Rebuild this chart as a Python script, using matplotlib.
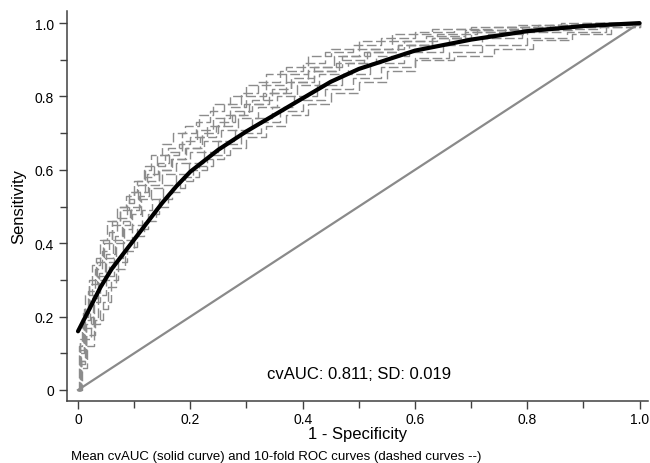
import matplotlib
matplotlib.use("Agg")
import matplotlib.pyplot as plt
from matplotlib.ticker import MultipleLocator, FixedLocator

plt.rcParams['font.family'] = ['Liberation Sans', 'DejaVu Sans']

# 10-fold ROC curves (fpr, tpr)
fold_fpr = [
    [0, 0.004, 0.012, 0.025, 0.04, 0.052, 0.07, 0.085, 0.1, 0.118, 0.13, 0.15, 0.17, 0.19, 0.215, 0.24, 0.27, 0.3, 0.335, 0.37, 0.41, 0.45, 0.5, 0.56, 0.63, 0.7, 0.78, 0.86, 0.93, 1.0],
    [0, 0.003, 0.01, 0.02, 0.032, 0.045, 0.06, 0.075, 0.09, 0.105, 0.12, 0.14, 0.16, 0.185, 0.21, 0.235, 0.26, 0.29, 0.32, 0.36, 0.4, 0.44, 0.49, 0.54, 0.6, 0.67, 0.74, 0.82, 0.9, 1.0],
    [0, 0.005, 0.014, 0.026, 0.038, 0.05, 0.065, 0.08, 0.095, 0.11, 0.125, 0.145, 0.165, 0.19, 0.22, 0.25, 0.28, 0.31, 0.345, 0.38, 0.42, 0.47, 0.52, 0.58, 0.64, 0.71, 0.79, 0.87, 0.94, 1.0],
    [0, 0.002, 0.008, 0.018, 0.03, 0.042, 0.055, 0.07, 0.088, 0.1, 0.12, 0.135, 0.155, 0.18, 0.2, 0.23, 0.26, 0.295, 0.33, 0.37, 0.41, 0.46, 0.51, 0.57, 0.63, 0.69, 0.76, 0.84, 0.92, 1.0],
    [0, 0.006, 0.015, 0.028, 0.04, 0.055, 0.068, 0.082, 0.097, 0.112, 0.13, 0.15, 0.175, 0.2, 0.225, 0.255, 0.285, 0.32, 0.355, 0.39, 0.43, 0.48, 0.53, 0.59, 0.66, 0.73, 0.8, 0.88, 0.95, 1.0],
    [0, 0.004, 0.011, 0.022, 0.036, 0.048, 0.062, 0.078, 0.092, 0.108, 0.126, 0.145, 0.168, 0.192, 0.218, 0.245, 0.275, 0.305, 0.34, 0.38, 0.42, 0.465, 0.515, 0.57, 0.63, 0.7, 0.77, 0.85, 0.93, 1.0],
    [0, 0.005, 0.013, 0.024, 0.036, 0.05, 0.064, 0.08, 0.096, 0.114, 0.132, 0.152, 0.174, 0.198, 0.224, 0.25, 0.28, 0.31, 0.345, 0.385, 0.425, 0.47, 0.52, 0.58, 0.65, 0.72, 0.79, 0.86, 0.93, 1.0],
    [0, 0.007, 0.016, 0.028, 0.04, 0.054, 0.068, 0.084, 0.1, 0.118, 0.138, 0.16, 0.182, 0.205, 0.23, 0.26, 0.29, 0.325, 0.36, 0.4, 0.44, 0.49, 0.54, 0.6, 0.66, 0.72, 0.8, 0.87, 0.94, 1.0],
    [0, 0.006, 0.015, 0.03, 0.045, 0.058, 0.072, 0.088, 0.105, 0.125, 0.145, 0.168, 0.19, 0.215, 0.24, 0.27, 0.3, 0.335, 0.37, 0.41, 0.45, 0.5, 0.55, 0.6, 0.67, 0.74, 0.81, 0.88, 0.95, 1.0],
    [0, 0.003, 0.009, 0.02, 0.033, 0.046, 0.06, 0.074, 0.09, 0.106, 0.122, 0.142, 0.162, 0.186, 0.212, 0.24, 0.27, 0.3, 0.335, 0.37, 0.41, 0.455, 0.5, 0.56, 0.62, 0.69, 0.76, 0.84, 0.92, 1.0],
]
fold_tpr = [
    [0, 0.14, 0.26, 0.34, 0.41, 0.46, 0.50, 0.53, 0.57, 0.60, 0.64, 0.67, 0.70, 0.72, 0.75, 0.78, 0.80, 0.83, 0.86, 0.88, 0.91, 0.93, 0.95, 0.97, 0.985, 0.99, 0.995, 1.0, 1.0, 1.0],
    [0, 0.10, 0.22, 0.30, 0.36, 0.41, 0.46, 0.50, 0.54, 0.57, 0.61, 0.64, 0.66, 0.70, 0.73, 0.76, 0.78, 0.81, 0.84, 0.87, 0.89, 0.92, 0.94, 0.96, 0.975, 0.985, 0.99, 0.995, 1.0, 1.0],
    [0, 0.08, 0.18, 0.26, 0.32, 0.37, 0.42, 0.46, 0.50, 0.54, 0.57, 0.60, 0.63, 0.66, 0.70, 0.73, 0.76, 0.79, 0.82, 0.85, 0.88, 0.91, 0.93, 0.95, 0.97, 0.98, 0.99, 0.995, 1.0, 1.0],
    [0, 0.12, 0.20, 0.27, 0.33, 0.38, 0.43, 0.47, 0.51, 0.54, 0.58, 0.61, 0.64, 0.67, 0.69, 0.72, 0.75, 0.78, 0.81, 0.84, 0.87, 0.89, 0.92, 0.94, 0.96, 0.975, 0.985, 0.99, 1.0, 1.0],
    [0, 0.09, 0.17, 0.24, 0.30, 0.35, 0.40, 0.44, 0.48, 0.52, 0.55, 0.59, 0.62, 0.65, 0.68, 0.71, 0.74, 0.77, 0.80, 0.83, 0.86, 0.89, 0.91, 0.94, 0.96, 0.97, 0.98, 0.99, 1.0, 1.0],
    [0, 0.11, 0.19, 0.25, 0.31, 0.36, 0.41, 0.45, 0.49, 0.53, 0.56, 0.60, 0.63, 0.66, 0.69, 0.72, 0.75, 0.78, 0.81, 0.84, 0.87, 0.90, 0.92, 0.94, 0.96, 0.975, 0.985, 0.995, 1.0, 1.0],
    [0, 0.07, 0.14, 0.20, 0.26, 0.31, 0.36, 0.41, 0.45, 0.49, 0.52, 0.56, 0.59, 0.62, 0.65, 0.68, 0.71, 0.74, 0.77, 0.80, 0.83, 0.86, 0.89, 0.92, 0.94, 0.96, 0.975, 0.985, 0.995, 1.0],
    [0, 0.06, 0.12, 0.18, 0.22, 0.28, 0.33, 0.38, 0.42, 0.46, 0.50, 0.54, 0.57, 0.60, 0.63, 0.67, 0.70, 0.73, 0.76, 0.79, 0.82, 0.85, 0.88, 0.905, 0.92, 0.94, 0.96, 0.975, 0.99, 1.0],
    [0, 0.08, 0.15, 0.19, 0.24, 0.30, 0.35, 0.39, 0.44, 0.48, 0.52, 0.55, 0.58, 0.61, 0.64, 0.66, 0.69, 0.72, 0.75, 0.78, 0.81, 0.84, 0.87, 0.90, 0.91, 0.93, 0.955, 0.97, 0.99, 1.0],
    [0, 0.13, 0.21, 0.29, 0.35, 0.40, 0.45, 0.49, 0.52, 0.56, 0.59, 0.62, 0.65, 0.68, 0.71, 0.74, 0.77, 0.80, 0.83, 0.86, 0.88, 0.91, 0.93, 0.95, 0.965, 0.98, 0.99, 0.995, 1.0, 1.0],
]

# mean (smoothed) curve
mean_fpr = [0, 0.02, 0.04, 0.06, 0.08, 0.1, 0.125, 0.15, 0.175, 0.2, 0.25, 0.3, 0.35, 0.4, 0.45, 0.5, 0.55, 0.6, 0.7, 0.8, 0.9, 1.0]
mean_tpr = [0.16, 0.22, 0.28, 0.33, 0.37, 0.41, 0.46, 0.51, 0.555, 0.595, 0.655, 0.705, 0.75, 0.795, 0.84, 0.875, 0.90, 0.925, 0.955, 0.978, 0.992, 1.0]

cv_auc = 0.811
cv_sd = 0.019
tick_vals = [0, 0.2, 0.4, 0.6, 0.8, 1.0]
tick_labels = ["0", "0.2", "0.4", "0.6", "0.8", "1.0"]

fig = plt.figure(figsize=(6.5, 4.64), dpi=100)
ax = fig.add_axes([67/650, 62/464, 581/650, 390/464])

ax.plot([0, 1], [0, 1], color='#8a8a8a', lw=1.6, zorder=1)
for fx, fy in zip(fold_fpr, fold_tpr):
    ax.plot(fx, fy, drawstyle='steps-post', color='#8c8c8c', lw=1.0,
            linestyle=(0, (7, 2.5)), zorder=2)
ax.plot(mean_fpr, mean_tpr, color='black', lw=3.0, solid_capstyle='round', zorder=3)

ax.text(0.5, 0.046, "cvAUC: %.3f; SD: %.3f" % (cv_auc, cv_sd), ha='center', va='center', fontsize=12)

ax.set_xlim(-0.0196, 1.015)
ax.set_ylim(-0.030, 1.033)
for s in ['top', 'right']:
    ax.spines[s].set_visible(False)
for s in ['left', 'bottom']:
    ax.spines[s].set_color('#404040')
    ax.spines[s].set_linewidth(1.1)

ax.xaxis.set_major_locator(FixedLocator(tick_vals))
ax.yaxis.set_major_locator(FixedLocator(tick_vals))
ax.set_xticklabels(tick_labels)
ax.set_yticklabels(tick_labels)
ax.xaxis.set_minor_locator(MultipleLocator(0.1))
ax.yaxis.set_minor_locator(MultipleLocator(0.1))
ax.tick_params(which='major', direction='out', length=6, width=1, color='#404040', labelsize=10)
ax.tick_params(axis='x', which='major', pad=2)
ax.tick_params(which='minor', direction='out', length=5, width=1, color='#404040')

ax.set_xlabel("1 - Specificity", fontsize=12, labelpad=0)
ax.set_ylabel("Sensitivity", fontsize=12, labelpad=6)

fig.text(71/650, 1 - 457/464, "Mean cvAUC (solid curve) and 10-fold ROC curves (dashed curves --)",
         fontsize=9.5, ha='left', va='center')

fig.savefig("out.png", dpi=100)
